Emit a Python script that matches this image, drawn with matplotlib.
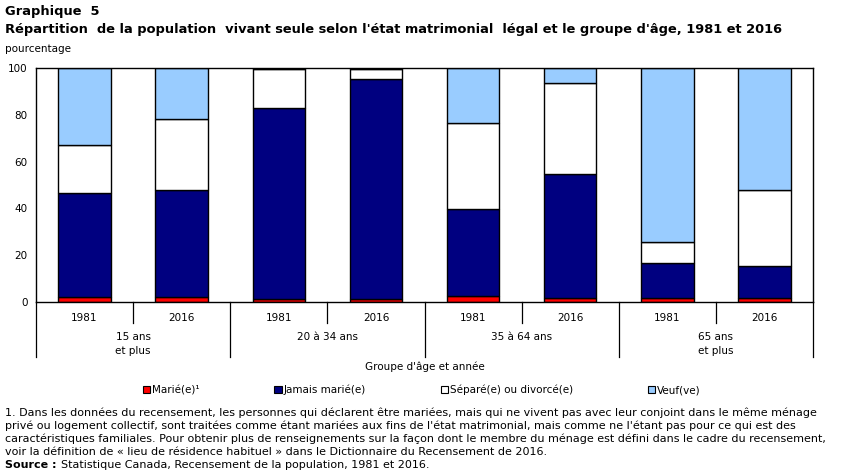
import numpy as np
import matplotlib
matplotlib.use("Agg")
import matplotlib.pyplot as plt
from matplotlib.patches import Patch

# Données (pourcentages)
annees = ["1981", "2016", "1981", "2016", "1981", "2016", "1981", "2016"]
groupes = ["15 ans\net plus", "20 à 34 ans", "35 à 64 ans", "65 ans\net plus"]
marie = [2.0, 2.0, 1.1, 1.4, 2.4, 1.9, 1.9, 1.9]
jamais_marie = [44.5, 45.8, 81.8, 93.9, 37.3, 52.9, 14.8, 13.4]
separe_divorce = [20.5, 30.4, 16.7, 4.3, 36.8, 38.8, 8.8, 32.5]
veuf = [33.0, 21.8, 0.4, 0.4, 23.5, 6.4, 74.5, 52.2]

series = [
    ("Marié(e)¹", marie, "#ff0000"),
    ("Jamais marié(e)", jamais_marie, "#000080"),
    ("Séparé(e) ou divorcé(e)", separe_divorce, "#ffffff"),
    ("Veuf(ve)", veuf, "#99ccff"),
]

plt.rcParams["font.family"] = ["DejaVu Sans"]

fig = plt.figure(figsize=(8.51, 4.73), dpi=100)
ax = fig.add_axes([36 / 851, 1 - 302 / 473, 777 / 851, 234 / 473])

x = np.arange(len(annees))
bottom = np.zeros(len(annees))
for nom, vals, couleur in series:
    ax.bar(x, vals, bottom=bottom, width=0.54, color=couleur,
           edgecolor="black", linewidth=1.0)
    bottom += np.array(vals)

ax.set_xlim(-0.5, len(annees) - 0.5)
ax.set_ylim(0, 100)
ax.set_yticks(range(0, 101, 20))
ax.tick_params(axis="y", length=0, labelsize=7.5, pad=6)
ax.set_xticks([])
for sp in ax.spines.values():
    sp.set_linewidth(1.0)

# étiquettes de l'axe x (années, groupes, séparateurs)
tr = ax.get_xaxis_transform()
for i, an in enumerate(annees):
    ax.text(i, -0.07, an, transform=tr, ha="center", va="center", fontsize=7.5)
for g, nom in enumerate(groupes):
    ax.text(2 * g + 0.5, -0.13, nom, transform=tr, ha="center", va="top",
            fontsize=7.5, linespacing=1.5)
for b in np.arange(-0.5, len(annees), 1.0):
    bas = -0.235 if int(b + 0.5) % 2 == 0 else -0.09
    ax.plot([b, b], [0, bas], transform=tr, color="black", lw=0.9,
            clip_on=False)
ax.text(0.5, -0.278, "Groupe d'âge et année", transform=ax.transAxes,
        ha="center", va="center", fontsize=7.5)

handles = [Patch(facecolor=c, edgecolor="black", linewidth=0.8, label=n)
           for n, _, c in series]
fig.legend(handles=handles, loc="center left",
           bbox_to_anchor=(143 / 851, 1 - 390 / 473),
           ncol=4, frameon=False, fontsize=7.5, handlelength=0.7,
           handleheight=0.7, handletextpad=0.2, columnspacing=7.15,
           borderaxespad=0, borderpad=0)

fig.text(5 / 851, 1 - 12 / 473, "Graphique  5", fontsize=9.4, fontweight="bold",
         va="center")
fig.text(5 / 851, 1 - 30 / 473,
         "Répartition  de la population  vivant seule selon l'état matrimonial  légal et le groupe d'âge, 1981 et 2016",
         fontsize=9.4, fontweight="bold", va="center")
fig.text(5 / 851, 1 - 49 / 473, "pourcentage", fontsize=7.5, va="center")

note = [
    "1. Dans les données du recensement, les personnes qui déclarent être mariées, mais qui ne vivent pas avec leur conjoint dans le même ménage",
    "privé ou logement collectif, sont traitées comme étant mariées aux fins de l'état matrimonial, mais comme ne l'étant pas pour ce qui est des",
    "caractéristiques familiales. Pour obtenir plus de renseignements sur la façon dont le membre du ménage est défini dans le cadre du recensement,",
    "voir la définition de « lieu de résidence habituel » dans le Dictionnaire du Recensement de 2016.",
]
for k, ligne in enumerate(note):
    fig.text(5 / 851, 1 - (413 + 13 * k) / 473, ligne, fontsize=8.0,
             va="center")
src = fig.text(5 / 851, 1 - 465 / 473, "Source :", fontsize=8.0,
               fontweight="bold", va="center")
fig.canvas.draw()
bb = src.get_window_extent()
fig.text((bb.x1 + 4) / 851, 1 - 465 / 473,
         "Statistique Canada, Recensement de la population, 1981 et 2016.",
         fontsize=8.0, va="center")

fig.savefig("out.png", dpi=100)
